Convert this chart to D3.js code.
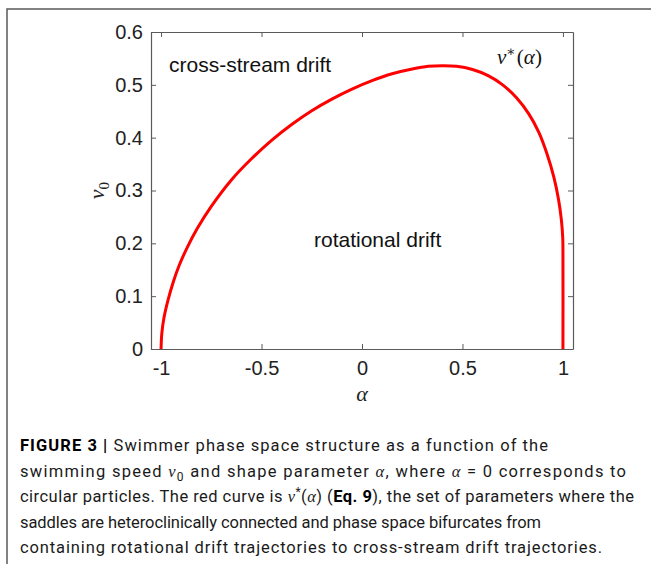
<!DOCTYPE html>
<html>
<head>
<meta charset="utf-8">
<script src="https://cdn.jsdelivr.net/npm/d3@7"></script>
<style>
  html, body { margin: 0; padding: 0; background: #fff; }
  svg { display: block; }
</style>
</head>
<body>
<svg id="fig" width="651" height="564"></svg>
<script>
// Critical curve v*(alpha): boundary between rotational and cross-stream drift
const alphaValues = [-1, -0.996, -0.985, -0.965, -0.94, -0.91, -0.87, -0.82, -0.75, -0.65, -0.55, -0.45, -0.35, -0.25, -0.15, -0.05, 0.05, 0.15, 0.25, 0.33, 0.4, 0.47, 0.55, 0.63, 0.7, 0.77, 0.83, 0.88, 0.92, 0.955, 0.978, 0.992, 0.999, 1.0, 1.0];
const vStarValues = [0, 0.03, 0.06, 0.093, 0.126, 0.158, 0.192, 0.228, 0.27, 0.32, 0.36, 0.395, 0.425, 0.451, 0.473, 0.492, 0.508, 0.521, 0.53, 0.535, 0.536, 0.535, 0.529, 0.517, 0.5, 0.475, 0.445, 0.41, 0.37, 0.325, 0.283, 0.245, 0.21, 0.18, 0];

const xTicks = [-1, -0.5, 0, 0.5, 1];
const xTickLabels = ["-1", "-0.5", "0", "0.5", "1"];
const yTicks = [0, 0.1, 0.2, 0.3, 0.4, 0.5, 0.6];
const yTickLabels = ["0", "0.1", "0.2", "0.3", "0.4", "0.5", "0.6"];

const captionLines = [
  [{t: "FIGURE 3 | ", b: true}, {t: "Swimmer phase space structure as a function of the"}],
  [{t: "swimming speed "}, {t: "v", i: true}, {t: "0", sub: true}, {t: " and shape parameter "}, {t: "α", i: true}, {t: ", where "}, {t: "α", i: true}, {t: " = 0 corresponds to"}],
  [{t: "circular particles. The red curve is "}, {t: "v", i: true}, {t: "*", sup: true}, {t: "("}, {t: "α", i: true}, {t: ") ("}, {t: "Eq. 9", b: true}, {t: "), the set of parameters where the"}],
  [{t: "saddles are heteroclinically connected and phase space bifurcates from"}],
  [{t: "containing rotational drift trajectories to cross-stream drift trajectories."}]
];
const captionWidths = [528, 606, 614, 521, 582];

const svg = d3.select("#fig");
const axisColor = "#5a5a5a";

// Panel frame (top and left rules)
svg.append("path")
  .attr("d", "M7,564 L7,9 L651,9")
  .attr("fill", "none")
  .attr("stroke", axisColor)
  .attr("stroke-width", 1.5);

const plot = {left: 151, right: 573, top: 32, bottom: 349};
const x = d3.scaleLinear().domain([-1.05, 1.05]).range([plot.left, plot.right]);
const y = d3.scaleLinear().domain([0, 0.6]).range([plot.bottom, plot.top]);

const tickFont = "'Liberation Sans', Arial, sans-serif";

// Bottom axis
const gx = svg.append("g").attr("transform", `translate(0,${plot.bottom})`)
  .call(d3.axisBottom(x).tickValues(xTicks).tickFormat((d, i) => xTickLabels[i]).tickSizeInner(-5).tickSizeOuter(0).tickPadding(12));
// Left axis
const gy = svg.append("g").attr("transform", `translate(${plot.left},0)`)
  .call(d3.axisLeft(y).tickValues(yTicks).tickFormat((d, i) => yTickLabels[i]).tickSizeInner(-5).tickSizeOuter(0).tickPadding(8));
// Top and right axes (ticks only)
const gt = svg.append("g").attr("transform", `translate(0,${plot.top})`)
  .call(d3.axisTop(x).tickValues(xTicks).tickFormat("").tickSizeInner(-5).tickSizeOuter(0));
const gr = svg.append("g").attr("transform", `translate(${plot.right},0)`)
  .call(d3.axisRight(y).tickValues(yTicks).tickFormat("").tickSizeInner(-5).tickSizeOuter(0));

[gx, gy, gt, gr].forEach(g => {
  g.select(".domain").attr("stroke", axisColor).attr("stroke-width", 1.2);
  g.selectAll(".tick line").attr("stroke", axisColor).attr("stroke-width", 1);
  g.selectAll("text").attr("fill", "#222").style("font-family", tickFont).style("font-size", "20px");
});

// Curve
const pts = alphaValues.map((a, i) => [a, vStarValues[i]]);
svg.append("path")
  .datum(pts)
  .attr("fill", "none")
  .attr("stroke", "#ff0000")
  .attr("stroke-width", 3)
  .attr("stroke-linejoin", "round")
  .attr("d", d3.line().x(d => x(d[0])).y(d => y(d[1])).curve(d3.curveCatmullRom.alpha(0.5)));

// Region labels
svg.append("text").attr("x", 169).attr("y", 72)
  .style("font-family", tickFont).style("font-size", "21px").attr("fill", "#111")
  .text("cross-stream drift");
svg.append("text").attr("x", 314).attr("y", 247)
  .style("font-family", tickFont).style("font-size", "21px").attr("fill", "#111")
  .text("rotational drift");

// Curve label v*(α)
const serif = "'Liberation Serif', 'DejaVu Serif', serif";
const vl = svg.append("text").attr("x", 497).attr("y", 64)
  .style("font-family", serif).style("font-size", "21px").attr("fill", "#111");
vl.append("tspan").style("font-style", "italic").text("v");
vl.append("tspan").attr("dy", -8).style("font-size", "14px").text("∗");
vl.append("tspan").attr("dy", 8).attr("dx", 1).text("(");
vl.append("tspan").style("font-style", "italic").text("α");
vl.append("tspan").text(")");

// Axis titles
svg.append("text").attr("x", x(0)).attr("y", 401).attr("text-anchor", "middle")
  .style("font-family", serif).style("font-size", "22px").style("font-style", "italic").attr("fill", "#222")
  .text("α");
const yl = svg.append("text").attr("transform", `translate(104,${y(0.3)}) rotate(-90)`).attr("text-anchor", "middle")
  .style("font-family", serif).style("font-size", "22px").attr("fill", "#222");
yl.append("tspan").style("font-style", "italic").text("v");
yl.append("tspan").attr("dy", 5).style("font-size", "15px").text("0");

// Caption: each line is fitted to its width by adjusting letter spacing
const capFont = "Roboto, 'Liberation Sans', sans-serif";
captionLines.forEach((line, li) => {
  const t = svg.append("text").attr("x", 20).attr("y", 451 + li * 25.6)
    .style("font-family", capFont).style("font-size", "16.5px").attr("fill", "#1a1a1a");
  line.forEach((seg, si) => {
    const s = t.append("tspan").text(seg.t);
    if (seg.b) s.style("font-weight", "bold").attr("fill", "#000");
    if (seg.i) s.style("font-style", "italic").style("font-family", serif);
    if (seg.sub) { s.attr("dy", 4).style("font-size", "12px"); }
    else if (seg.sup) { s.attr("dy", -6).style("font-size", "12px"); }
    const prev = line[si - 1];
    if (prev && (prev.sub || prev.sup) && !seg.sub && !seg.sup) s.attr("dy", prev.sub ? -4 : 6);
  });
  const natural = t.node().getComputedTextLength();
  const nChars = line.reduce((n, seg) => n + seg.t.length, 0);
  t.style("letter-spacing", ((captionWidths[li] - natural) / (nChars - 1)) + "px");
});
</script>
</body>
</html>
